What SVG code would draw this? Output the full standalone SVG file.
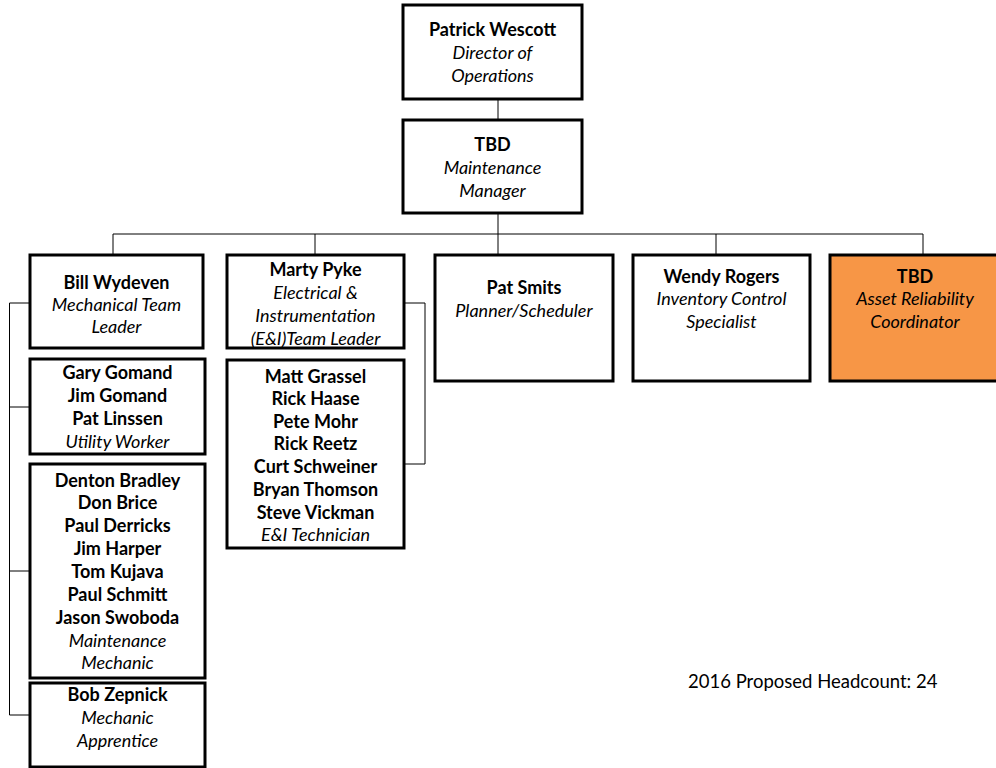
<svg xmlns="http://www.w3.org/2000/svg" width="996" height="768" viewBox="0 0 996 768">
<style>
.box{fill:#fff;stroke:#000;stroke-width:3}
.orange{fill:#F79646;stroke:#000;stroke-width:3}
.ln{fill:none;stroke:#000;stroke-width:1}
text{font-family:Lato,"Liberation Sans",sans-serif;font-size:18px;fill:#000;text-anchor:middle}
.b{font-weight:bold}
.i{font-style:italic}
.note{text-anchor:start;font-size:18.5px}
</style>
<rect width="996" height="768" fill="#fff"/>
<g id="connectors">
<line class="ln" x1="498" y1="99" x2="498" y2="120"/>
<line class="ln" x1="498" y1="213" x2="498" y2="255"/>
<line class="ln" x1="113" y1="234" x2="923" y2="234"/>
<line class="ln" x1="113" y1="234" x2="113" y2="255"/>
<line class="ln" x1="315" y1="234" x2="315" y2="255"/>
<line class="ln" x1="716" y1="234" x2="716" y2="255"/>
<line class="ln" x1="923" y1="234" x2="923" y2="255"/>
<polyline class="ln" points="30,303 9.5,303 9.5,715 30,715"/>
<line class="ln" x1="9.5" y1="407" x2="30" y2="407"/>
<line class="ln" x1="9.5" y1="571" x2="30" y2="571"/>
<polyline class="ln" points="404,303 425,303 425,464 404,464"/>
</g>
<g id="director">
<rect class="box" x="403" y="5" width="179" height="94"/>
<text x="492.5" y="36" class="b">Patrick Wescott</text>
<text x="492.5" y="59" class="i">Director of</text>
<text x="492.5" y="82" class="i">Operations</text>
</g>
<g id="manager">
<rect class="box" x="403" y="120" width="179" height="93"/>
<text x="492.5" y="151" class="b">TBD</text>
<text x="492.5" y="174" class="i">Maintenance</text>
<text x="492.5" y="197" class="i">Manager</text>
</g>
<g id="bill">
<rect class="box" x="30" y="255" width="173" height="93"/>
<text x="116.5" y="289" class="b">Bill Wydeven</text>
<text x="116.5" y="311" class="i">Mechanical Team</text>
<text x="116.5" y="333" class="i">Leader</text>
</g>
<g id="utility">
<rect class="box" x="30" y="359" width="175" height="95"/>
<text x="117.5" y="379" class="b">Gary Gomand</text>
<text x="117.5" y="402" class="b">Jim Gomand</text>
<text x="117.5" y="425" class="b">Pat Linssen</text>
<text x="117.5" y="448" class="i">Utility Worker</text>
</g>
<g id="mechanics">
<rect class="box" x="30" y="464" width="175" height="214"/>
<text x="117.5" y="487" class="b">Denton Bradley</text>
<text x="117.5" y="509" class="b">Don Brice</text>
<text x="117.5" y="532" class="b">Paul Derricks</text>
<text x="117.5" y="555" class="b">Jim Harper</text>
<text x="117.5" y="578" class="b">Tom Kujava</text>
<text x="117.5" y="601" class="b">Paul Schmitt</text>
<text x="117.5" y="624" class="b">Jason Swoboda</text>
<text x="117.5" y="647" class="i">Maintenance</text>
<text x="117.5" y="669" class="i">Mechanic</text>
</g>
<g id="apprentice">
<rect class="box" x="30" y="683" width="175" height="84"/>
<text x="117.5" y="701" class="b">Bob Zepnick</text>
<text x="117.5" y="724" class="i">Mechanic</text>
<text x="117.5" y="747" class="i">Apprentice</text>
</g>
<g id="marty">
<rect class="box" x="227" y="255" width="177" height="93"/>
<text x="315.5" y="276" class="b">Marty Pyke</text>
<text x="315.5" y="299" class="i">Electrical &amp;</text>
<text x="315.5" y="322" class="i">Instrumentation</text>
<text x="315.5" y="345" class="i">(E&amp;I)Team Leader</text>
</g>
<g id="technicians">
<rect class="box" x="227" y="360" width="177" height="188"/>
<text x="315.5" y="383" class="b">Matt Grassel</text>
<text x="315.5" y="405" class="b">Rick Haase</text>
<text x="315.5" y="428" class="b">Pete Mohr</text>
<text x="315.5" y="450" class="b">Rick Reetz</text>
<text x="315.5" y="473" class="b">Curt Schweiner</text>
<text x="315.5" y="496" class="b">Bryan Thomson</text>
<text x="315.5" y="519" class="b">Steve Vickman</text>
<text x="315.5" y="541" class="i">E&amp;I Technician</text>
</g>
<g id="planner">
<rect class="box" x="435" y="255" width="178" height="126"/>
<text x="524" y="294" class="b">Pat Smits</text>
<text x="524" y="317" class="i">Planner/Scheduler</text>
</g>
<g id="inventory">
<rect class="box" x="633" y="255" width="177" height="126"/>
<text x="721.5" y="283" class="b">Wendy Rogers</text>
<text x="721.5" y="305" class="i">Inventory Control</text>
<text x="721.5" y="328" class="i">Specialist</text>
</g>
<g id="reliability">
<rect class="orange" x="830" y="255" width="172" height="126"/>
<text x="915" y="283" class="b">TBD</text>
<text x="915" y="305" class="i">Asset Reliability</text>
<text x="915" y="328" class="i">Coordinator</text>
</g>
<g id="headcount">
<text x="688" y="688" class="note">2016 Proposed Headcount: 24</text>
</g>
</svg>
